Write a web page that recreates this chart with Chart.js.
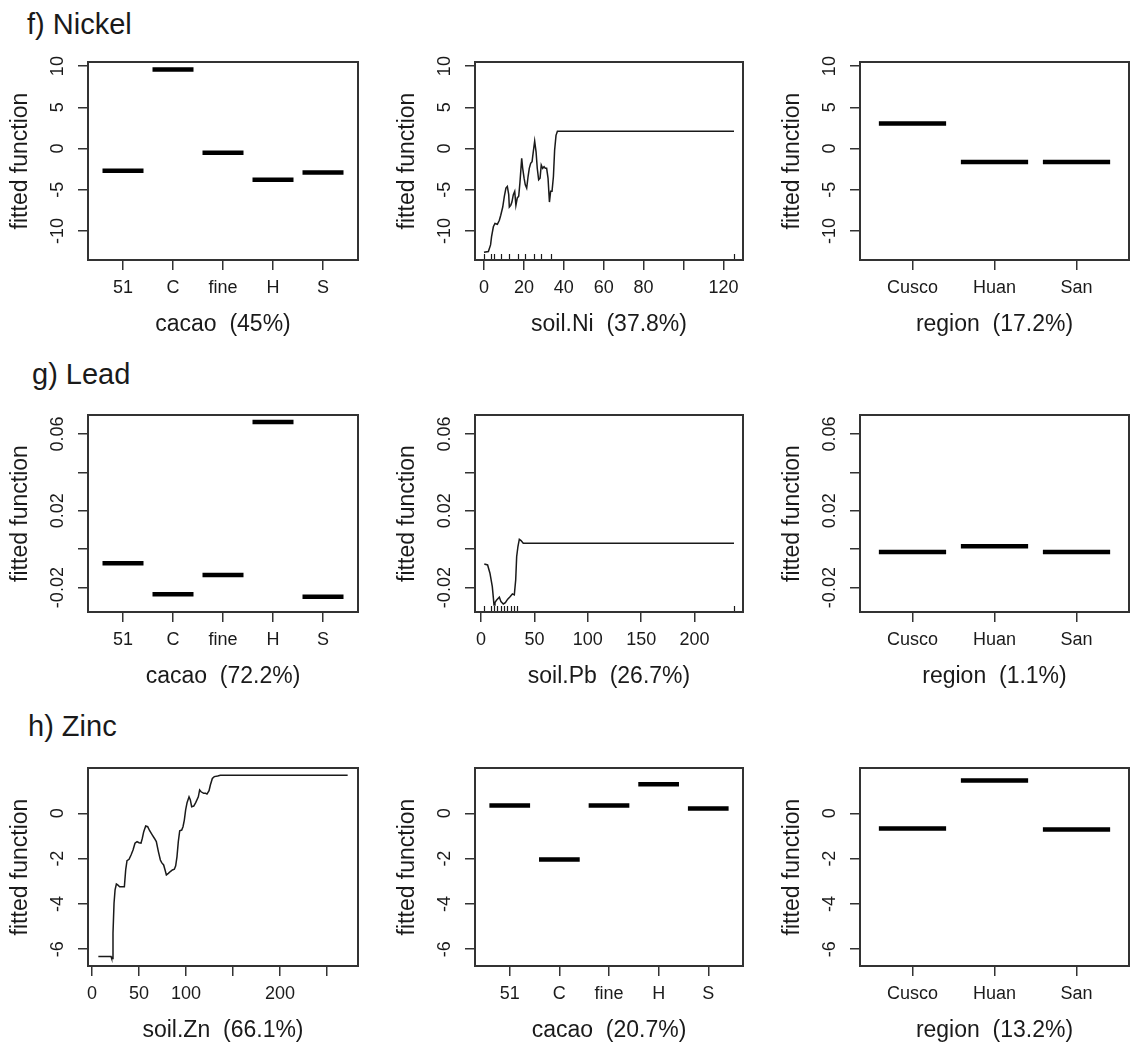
<!DOCTYPE html>
<html>
<head>
<meta charset="utf-8">
<title>Partial dependence: Nickel, Lead, Zinc</title>
<script src="https://cdn.jsdelivr.net/npm/chart.js@4.4.0/dist/chart.umd.min.js"></script>
<style>
  html, body { margin: 0; padding: 0; background: #fff; }
  #page { position: relative; width: 1134px; height: 1051px; overflow: hidden; background: #fff; }
  #page canvas { position: absolute; }
  .rowtitle {
    position: absolute; white-space: pre; color: #1a1a1a;
    font-family: "Liberation Sans", Arial, sans-serif; font-size: 29px; line-height: 29px;
  }
</style>
</head>
<body>
<div id="page">
  <div class="rowtitle" style="left:27px; top:9.5px;">f) Nickel</div>
  <div class="rowtitle" style="left:32px; top:359.5px;">g) Lead</div>
  <div class="rowtitle" style="left:28px; top:711.5px;">h) Zinc</div>
</div>
<script>
// ---------- factor levels ----------
const cacaoLevels  = ['51', 'C', 'fine', 'H', 'S'];
const regionLevels = ['Cusco', 'Huan', 'San'];

// ---------- f) Nickel ----------
const niCacao  = [-2.7, 9.6, -0.5, -3.8, -2.9];
const niRegion = [3.05, -1.65, -1.65];
const niSoilX = [0, 2.2, 3.3, 3.8, 4.7, 5.5, 6.7, 7.7, 8.4, 9.4, 10.2, 11.0, 11.7, 12.4, 12.7, 13.4,
  14.0, 14.7, 15.4, 16.0, 16.7, 17.4, 18.0, 18.9, 19.4, 20.1, 20.7, 21.4, 22.1, 22.7, 23.4, 24.1,
  24.7, 25.4, 26.1, 26.7, 27.4, 28.1, 28.7, 29.4, 30.1, 30.7, 31.4, 32.1, 32.8, 33.4, 34.1, 34.8,
  35.4, 36.1, 36.8, 125.3];
const niSoilY = [-12.6, -12.5, -11.7, -10.7, -9.5, -9.1, -9.2, -8.7, -8.1, -7.1, -5.8, -4.8, -4.6, -5.6,
  -7.1, -6.9, -6.5, -5.6, -5.2, -6.9, -6.0, -5.8, -4.2, -1.2, -2.4, -3.6, -4.4, -4.8, -3.4, -2.4,
  -1.8, -1.6, -0.4, 0.9, -0.4, -2.4, -3.8, -3.6, -2.0, -2.4, -2.2, -2.4, -2.4, -3.6, -6.5, -5.2,
  -5.2, -3.4, -0.2, 1.6, 2.1, 2.1];
const niSoilDeciles = [0, 3.4, 5, 8.4, 12.7, 17.2, 20.7, 25.1, 28.6, 33.6, 125.3];

// ---------- g) Lead ----------
const pbCacao  = [-0.0073, -0.0234, -0.0134, 0.0663, -0.0248];
const pbRegion = [-0.0015, 0.0015, -0.0015];
const pbSoilX = [3.1, 6.2, 8.4, 10.6, 12.2, 13.1, 14.7, 17.2, 18.7, 20.9, 22.8, 25.0, 27.2, 29.4,
  31.2, 32.5, 33.4, 34.6, 35.9, 37.5, 39.6, 236.9];
const pbSoilY = [-0.0077, -0.0082, -0.0125, -0.0195, -0.029, -0.0278, -0.0264, -0.025, -0.0273,
  -0.0285, -0.0278, -0.026, -0.0247, -0.0233, -0.0238, -0.016, -0.0039, 0.0014, 0.0052, 0.0045,
  0.0031, 0.0031];
const pbSoilDeciles = [2.8, 9.1, 12.2, 15.3, 18.4, 21.5, 24.6, 27.8, 30.9, 34.0, 236.9];

// ---------- h) Zinc ----------
const znCacao  = [0.34, -2.04, 0.34, 1.28, 0.21];
const znRegion = [-0.67, 1.45, -0.72];
const znSoilX = [6.7, 20.2, 20.9, 21.6, 22.3, 23.4, 24.5, 25.9, 27.3, 29.4, 34.4, 35.8, 37.2, 39.4,
  41.5, 43.6, 45.7, 47.9, 50.0, 52.1, 53.5, 55.0, 57.1, 59.2, 61.3, 64.2, 66.3, 68.4, 70.6, 72.7,
  74.1, 76.2, 77.7, 79.1, 81.2, 83.3, 85.5, 87.6, 89.0, 90.4, 91.8, 93.3, 95.4, 96.8, 98.2, 99.6,
  101.1, 103.2, 104.6, 106.0, 108.2, 110.3, 113.1, 114.5, 116.0, 118.8, 120.9, 122.3, 124.5, 125.9,
  128.0, 130.1, 133.7, 136.5, 272];
const znSoilY = [-6.32, -6.32, -6.41, -6.41, -5.29, -3.97, -3.38, -3.12, -3.16, -3.24, -3.24, -2.50,
  -2.09, -2.03, -1.84, -1.62, -1.32, -1.25, -1.30, -1.32, -1.10, -0.81, -0.56, -0.59, -0.77, -0.96,
  -1.10, -1.25, -1.69, -2.06, -2.18, -2.28, -2.50, -2.72, -2.65, -2.57, -2.50, -2.47, -2.32, -1.91,
  -1.25, -0.77, -0.74, -0.59, -0.30, 0.15, 0.47, 0.73, 0.59, 0.29, 0.32, 0.47, 0.73, 1.03, 0.95,
  0.88, 0.88, 0.85, 1.00, 1.25, 1.54, 1.62, 1.65, 1.68, 1.68];

// ---------- axis ticks and labels ----------
const niYTicks = [-10, -5, 0, 5, 10];
const niYLabels = ['-10', '-5', '0', '5', '10'];
const pbYTicks = [-0.02, 0, 0.02, 0.04, 0.06];
const pbYLabels = ['-0.02', '', '0.02', '', '0.06'];
const znYTicks = [-6, -4, -2, 0];
const znYLabels = ['-6', '-4', '-2', '0'];

const niXTicks = [0, 20, 40, 60, 80, 100, 120];
const niXLabels = ['0', '20', '40', '60', '80', '', '120'];
const pbXTicks = [0, 50, 100, 150, 200];
const pbXLabels = ['0', '50', '100', '150', '200'];
const znXTicks = [0, 50, 100, 150, 200, 250];
const znXLabels = ['0', '50', '100', '', '200', ''];

// axis limits (value units)
const niYRange = [-13.53, 10.5];
const pbYRange = [-0.0327, 0.0699];
const znYRange = [-6.74, 2.0];
const cacaoXRange  = [0.3, 5.7];
const regionXRange = [0.36, 3.64];
const niXRange = [-4.5, 129.8];
const pbXRange = [-5.6, 245.3];
const znXRange = [-4.3, 283];

// ---------- drawing setup ----------
const FONT = '"Liberation Sans", Arial, sans-serif';
const INK = '#1a1a1a';
const FRAME = '#333333';
Chart.defaults.font.family = FONT;
Chart.defaults.color = INK;

// plot-box geometry of the 3x3 grid
const colLeft = [88, 475, 860];
const colWidth = [270, 268, 269];
const rowTop = [62, 415, 768];
const rowHeight = [198, 197, 198];
const AXIS_W = 88, AXIS_H = 85, PAD_T = 10, PAD_R = 5;
const SEG_HALF = 0.41;

const rows = [
  { yRange: niYRange, yTicks: niYTicks, yLabels: niYLabels },
  { yRange: pbYRange, yTicks: pbYTicks, yLabels: pbYLabels },
  { yRange: znYRange, yTicks: znYTicks, yLabels: znYLabels }
];

function factorX(levels, values, range, title) {
  const ticks = levels.map((_, i) => i + 1);
  const pts = [];
  values.forEach((v, i) => {
    pts.push({ x: i + 1 - SEG_HALF, y: v }, { x: i + 1 + SEG_HALF, y: v }, { x: i + 1.5, y: null });
  });
  return { kind: 'factor', pts, range, ticks, labels: levels, title };
}
function numericX(xs, ys, range, ticks, labels, title, rug) {
  const pts = xs.map((x, i) => ({ x, y: ys[i] }));
  return { kind: 'numeric', pts, range, ticks, labels, title, rug };
}

const panels = [
  [ factorX(cacaoLevels, niCacao, cacaoXRange, 'cacao  (45%)'),
    numericX(niSoilX, niSoilY, niXRange, niXTicks, niXLabels, 'soil.Ni  (37.8%)', niSoilDeciles),
    factorX(regionLevels, niRegion, regionXRange, 'region  (17.2%)') ],
  [ factorX(cacaoLevels, pbCacao, cacaoXRange, 'cacao  (72.2%)'),
    numericX(pbSoilX, pbSoilY, pbXRange, pbXTicks, pbXLabels, 'soil.Pb  (26.7%)', pbSoilDeciles),
    factorX(regionLevels, pbRegion, regionXRange, 'region  (1.1%)') ],
  [ numericX(znSoilX, znSoilY, znXRange, znXTicks, znXLabels, 'soil.Zn  (66.1%)', null),
    factorX(cacaoLevels, znCacao, cacaoXRange, 'cacao  (20.7%)'),
    factorX(regionLevels, znRegion, regionXRange, 'region  (13.2%)') ]
];

// frame, rug marks and rotated y tick labels
const panelDecor = {
  id: 'panelDecor',
  afterDraw(chart, args, opts) {
    const { ctx, chartArea: a, scales } = chart;
    ctx.save();
    if (opts.rug) {
      ctx.strokeStyle = INK;
      ctx.lineWidth = 1.2;
      opts.rug.forEach(v => {
        const px = Math.round(scales.x.getPixelForValue(v)) + 0.5;
        ctx.beginPath();
        ctx.moveTo(px, a.bottom);
        ctx.lineTo(px, a.bottom - 6);
        ctx.stroke();
      });
    }
    ctx.lineWidth = 2;
    ctx.strokeStyle = FRAME;
    ctx.strokeRect(a.left, a.top, a.right - a.left, a.bottom - a.top);

    ctx.fillStyle = INK;
    ctx.font = '18px ' + FONT;
    ctx.textAlign = 'center';
    ctx.textBaseline = 'middle';
    scales.y.ticks.forEach((t, i) => {
      const lab = opts.yLabels[i];
      if (!lab) return;
      const py = scales.y.getPixelForValue(t.value);
      ctx.save();
      ctx.translate(a.left - 29.5, py);
      ctx.rotate(-Math.PI / 2);
      ctx.fillText(lab, 0, 0);
      ctx.restore();
    });
    ctx.restore();
  }
};
Chart.register(panelDecor);

const page = document.getElementById('page');

function gridOpts() {
  return { drawOnChartArea: false, drawTicks: true, tickLength: 10, color: FRAME, lineWidth: 1.5 };
}

panels.forEach((rowPanels, r) => {
  const row = rows[r];
  rowPanels.forEach((p, c) => {
    const boxW = colWidth[c], boxH = rowHeight[r];
    const W = AXIS_W + boxW + PAD_R, H = PAD_T + boxH + AXIS_H;
    const cv = document.createElement('canvas');
    cv.width = W; cv.height = H;
    cv.style.left = (colLeft[c] - AXIS_W) + 'px';
    cv.style.top = (rowTop[r] - PAD_T) + 'px';
    cv.style.width = W + 'px';
    cv.style.height = H + 'px';
    page.appendChild(cv);

    const isFactor = p.kind === 'factor';
    new Chart(cv, {
      type: 'line',
      data: {
        datasets: [{
          data: p.pts,
          borderColor: isFactor ? '#000000' : INK,
          borderWidth: isFactor ? 4.5 : 1.5,
          borderCapStyle: 'butt',
          pointRadius: 0,
          pointHoverRadius: 0,
          spanGaps: false,
          tension: 0,
          fill: false
        }]
      },
      options: {
        responsive: false,
        animation: false,
        devicePixelRatio: 1,
        events: [],
        layout: { padding: { left: 0, top: PAD_T, right: PAD_R, bottom: 0 } },
        plugins: {
          legend: { display: false },
          tooltip: { enabled: false },
          panelDecor: { rug: p.rug || null, yLabels: row.yLabels }
        },
        scales: {
          x: {
            type: 'linear',
            bounds: 'data',
            min: p.range[0],
            max: p.range[1],
            afterBuildTicks: s => { s.ticks = p.ticks.map(v => ({ value: v })); },
            afterFit: s => { s.height = AXIS_H; s.paddingLeft = 0; s.paddingRight = 0; },
            grid: gridOpts(),
            border: { display: false },
            ticks: {
              autoSkip: false, maxRotation: 0, minRotation: 0, padding: 7,
              color: INK, font: { family: FONT, size: 18 },
              callback: (v, i) => p.labels[i]
            },
            title: {
              display: true, text: p.title, color: INK,
              font: { family: FONT, size: 23 }, padding: { top: 0, bottom: 7 }
            }
          },
          y: {
            type: 'linear',
            bounds: 'data',
            min: row.yRange[0],
            max: row.yRange[1],
            afterBuildTicks: s => { s.ticks = row.yTicks.map(v => ({ value: v })); },
            afterFit: s => { s.width = AXIS_W; s.paddingTop = 0; s.paddingBottom = 0; },
            grid: gridOpts(),
            border: { display: false },
            ticks: { display: false },
            title: {
              display: true, text: 'fitted function', color: INK,
              font: { family: FONT, size: 23 }, padding: { top: 7, bottom: 0 }
            }
          }
        }
      }
    });
  });
});
</script>
</body>
</html>
